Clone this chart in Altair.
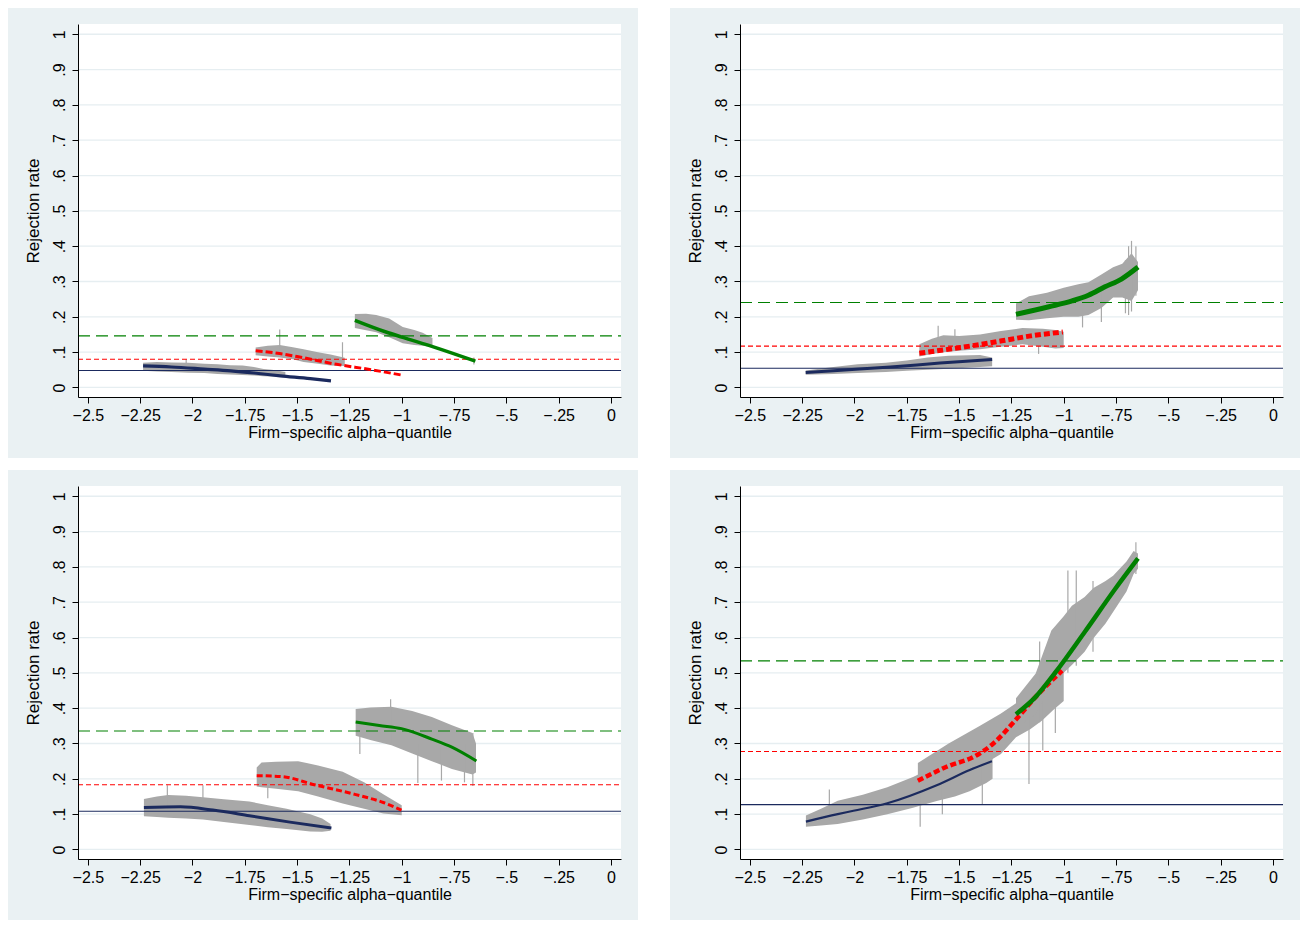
import altair as alt
import pandas as pd

FONT = "Liberation Sans"

# ---------------- shared axis values ----------------
X_TICKS = [-2.5, -2.25, -2.0, -1.75, -1.5, -1.25, -1.0, -0.75, -0.5, -0.25, 0.0]
Y_TICKS = [0.0, 0.1, 0.2, 0.3, 0.4, 0.5, 0.6, 0.7, 0.8, 0.9, 1.0]
X_DOMAIN = [-2.547, 0.048]
Y_DOMAIN = [-0.027, 1.029]
X_TITLE = "Firm\u2212specific alpha\u2212quantile"
Y_TITLE = "Rejection rate"

# ---------------- panel 1 (top left) ----------------
P1_HLINES = [0.048, 0.080, 0.146]  # navy, red, green
P1_NAVY_FIT = [(-2.236, 0.061), (-2.101, 0.058), (-1.943, 0.052), (-1.817, 0.047),
               (-1.706, 0.041), (-1.580, 0.033), (-1.437, 0.025), (-1.338, 0.0185)]
P1_NAVY_BAND = [(-2.236, 0.047, 0.070), (-2.17, 0.045, 0.072), (-2.10, 0.044, 0.071),
                (-2.02, 0.042, 0.070), (-1.943, 0.041, 0.067), (-1.88, 0.038, 0.066),
                (-1.82, 0.037, 0.063), (-1.76, 0.035, 0.062), (-1.706, 0.034, 0.058),
                (-1.66, 0.032, 0.052), (-1.62, 0.031, 0.050), (-1.556, 0.030, 0.044)]
P1_RED_FIT = [(-1.698, 0.104), (-1.583, 0.096), (-1.5, 0.0875), (-1.311, 0.0655),
              (-1.153, 0.051), (-1.0, 0.035)]
P1_RED_BAND = [(-1.698, 0.091, 0.113), (-1.64, 0.088, 0.118), (-1.583, 0.085, 0.120),
               (-1.52, 0.080, 0.114), (-1.469, 0.072, 0.108), (-1.40, 0.067, 0.100),
               (-1.34, 0.062, 0.093), (-1.272, 0.061, 0.084)]
P1_GREEN_FIT = [(-1.224, 0.190), (-1.075, 0.157), (-0.995, 0.142), (-0.838, 0.113),
                (-0.648, 0.0746)]
P1_GREEN_BAND = [(-1.224, 0.168, 0.208), (-1.17, 0.162, 0.209), (-1.122, 0.156, 0.205),
                 (-1.06, 0.142, 0.195), (-0.995, 0.125, 0.171), (-0.94, 0.120, 0.163),
                 (-0.900, 0.118, 0.155), (-0.853, 0.114, 0.140)]
P1_SPIKES = [(-1.583, 0.100, 0.164), (-1.283, 0.070, 0.128), (-2.03, 0.050, 0.080),
             (-0.655, 0.065, 0.085)]

# ---------------- panel 2 (top right) ----------------
P2_HLINES = [0.0544, 0.117, 0.2405]
P2_NAVY_FIT = [(-2.233, 0.0424), (-2.064, 0.049), (-1.828, 0.058), (-1.591, 0.069),
               (-1.342, 0.079)]
P2_NAVY_BAND = [(-2.233, 0.036, 0.048), (-2.10, 0.038, 0.058), (-1.985, 0.041, 0.066),
                (-1.85, 0.044, 0.070), (-1.75, 0.047, 0.076), (-1.65, 0.050, 0.085),
                (-1.55, 0.053, 0.090), (-1.40, 0.058, 0.092), (-1.342, 0.060, 0.085)]
P2_RED_FIT = [(-1.690, 0.097), (-1.493, 0.113), (-1.296, 0.132), (-1.157, 0.146),
              (-1.004, 0.157)]
P2_RED_BAND = [(-1.69, 0.088, 0.122), (-1.63, 0.095, 0.138), (-1.575, 0.100, 0.148),
               (-1.50, 0.104, 0.146), (-1.40, 0.108, 0.150), (-1.30, 0.115, 0.160),
               (-1.197, 0.122, 0.168), (-1.10, 0.115, 0.166), (-1.04, 0.110, 0.163),
               (-1.0, 0.112, 0.158)]
P2_GREEN_FIT = [(-1.228, 0.207), (-1.071, 0.2285), (-0.960, 0.245), (-0.882, 0.261),
                (-0.803, 0.285), (-0.724, 0.307), (-0.645, 0.341)]
P2_GREEN_BAND = [(-1.228, 0.192, 0.238), (-1.166, 0.190, 0.258), (-1.08, 0.196, 0.268),
                 (-1.0, 0.200, 0.282), (-0.93, 0.200, 0.292), (-0.882, 0.205, 0.298),
                 (-0.82, 0.225, 0.320), (-0.764, 0.255, 0.340), (-0.72, 0.255, 0.350),
                 (-0.676, 0.245, 0.380), (-0.645, 0.275, 0.355)]
P2_SPIKES = [(-0.676, 0.215, 0.415), (-0.690, 0.205, 0.400), (-0.705, 0.210, 0.360),
             (-0.820, 0.185, 0.300), (-0.910, 0.170, 0.260), (-1.600, 0.100, 0.175),
             (-1.520, 0.105, 0.165), (-1.120, 0.095, 0.150), (-0.655, 0.260, 0.400)]

# ---------------- panel 3 (bottom left) ----------------
P3_HLINES = [0.108, 0.1834, 0.3355]
P3_NAVY_FIT = [(-2.232, 0.119), (-2.057, 0.1206), (-1.902, 0.1115), (-1.728, 0.0957),
               (-1.534, 0.0774), (-1.336, 0.0608)]
P3_NAVY_BAND = [(-2.232, 0.094, 0.143), (-2.17, 0.092, 0.150), (-2.116, 0.090, 0.154),
                (-2.03, 0.088, 0.152), (-1.95, 0.085, 0.148), (-1.85, 0.078, 0.142),
                (-1.728, 0.069, 0.136), (-1.64, 0.063, 0.125), (-1.55, 0.058, 0.115),
                (-1.437, 0.051, 0.100), (-1.38, 0.050, 0.088), (-1.34, 0.053, 0.072)]
P3_RED_FIT = [(-1.693, 0.209), (-1.573, 0.2064), (-1.418, 0.1834), (-1.224, 0.156),
              (-1.088, 0.133), (-1.001, 0.1115)]
P3_RED_BAND = [(-1.693, 0.178, 0.232), (-1.670, 0.176, 0.246), (-1.60, 0.172, 0.248),
               (-1.495, 0.165, 0.250), (-1.40, 0.150, 0.238), (-1.282, 0.130, 0.220),
               (-1.18, 0.115, 0.190), (-1.088, 0.102, 0.156), (-1.0, 0.097, 0.125)]
P3_GREEN_FIT = [(-1.220, 0.361), (-1.107, 0.351), (-1.001, 0.342), (-0.856, 0.3125),
                (-0.758, 0.289), (-0.643, 0.2506)]
P3_GREEN_BAND = [(-1.220, 0.322, 0.398), (-1.15, 0.310, 0.402), (-1.049, 0.295, 0.404),
                 (-0.95, 0.272, 0.392), (-0.856, 0.250, 0.375), (-0.76, 0.228, 0.352),
                 (-0.662, 0.212, 0.330), (-0.645, 0.218, 0.300)]
P3_SPIKES = [(-1.053, 0.300, 0.425), (-0.923, 0.188, 0.300), (-0.700, 0.190, 0.300),
             (-0.810, 0.195, 0.300), (-1.200, 0.270, 0.360), (-2.120, 0.110, 0.182),
             (-1.950, 0.120, 0.182), (-1.640, 0.145, 0.200), (-0.660, 0.180, 0.330)]

# ---------------- panel 4 (bottom right) ----------------
P4_HLINES = [0.127, 0.2774, 0.534]
P4_NAVY_FIT = [(-2.232, 0.079), (-2.080, 0.100), (-2.005, 0.1095), (-1.843, 0.131),
               (-1.607, 0.182), (-1.449, 0.225), (-1.343, 0.2497)]
P4_NAVY_BAND = [(-2.232, 0.064, 0.096), (-2.16, 0.068, 0.115), (-2.08, 0.072, 0.138),
                (-1.96, 0.085, 0.155), (-1.843, 0.100, 0.176), (-1.72, 0.118, 0.205),
                (-1.607, 0.137, 0.238), (-1.52, 0.150, 0.265), (-1.45, 0.165, 0.288),
                (-1.37, 0.188, 0.322), (-1.34, 0.200, 0.330)]
P4_RED_FIT = [(-1.697, 0.1944), (-1.560, 0.234), (-1.418, 0.266), (-1.339, 0.2987),
              (-1.228, 0.3678), (-1.134, 0.432), (-1.0075, 0.506)]
P4_RED_BAND = [(-1.697, 0.175, 0.245), (-1.55, 0.200, 0.300), (-1.40, 0.235, 0.350),
               (-1.30, 0.270, 0.385), (-1.228, 0.318, 0.414), (-1.16, 0.340, 0.445),
               (-1.103, 0.365, 0.480), (-1.05, 0.395, 0.540), (-1.0, 0.420, 0.600)]
P4_GREEN_FIT = [(-1.228, 0.383), (-1.134, 0.432), (-1.040, 0.501), (-0.898, 0.617),
                (-0.756, 0.736), (-0.645, 0.824)]
P4_GREEN_BAND = [(-1.228, 0.345, 0.428), (-1.134, 0.382, 0.498), (-1.059, 0.470, 0.620),
                 (-1.00, 0.500, 0.660), (-0.961, 0.522, 0.690), (-0.90, 0.560, 0.715),
                 (-0.858, 0.598, 0.740), (-0.80, 0.640, 0.760), (-0.764, 0.672, 0.775),
                 (-0.70, 0.730, 0.815), (-0.666, 0.780, 0.845), (-0.645, 0.795, 0.838)]
P4_SPIKES = [(-1.166, 0.185, 0.380), (-1.115, 0.360, 0.589), (-1.100, 0.280, 0.420),
             (-1.389, 0.128, 0.250), (-1.686, 0.064, 0.180), (-1.580, 0.100, 0.200),
             (-1.040, 0.330, 0.500), (-0.980, 0.500, 0.790), (-0.940, 0.520, 0.790),
             (-0.860, 0.560, 0.760), (-2.120, 0.080, 0.170), (-0.655, 0.780, 0.870)]

# ---------------- styling ----------------
NAVY = "#1B2A5E"
RED = "#FF0000"
GREEN = "#008000"
GRAY = "#A8A8A8"
BG = "#EAF1F3"
GRID = "#E6EEF1"

W, H = 543, 373          # plot area of each panel
ML, MR, MT, MB = 70, 17, 16, 61   # panel margins (gray frame)

X_LABELS = ("datum.value == 0 ? '0' : "
            "replace(replace(format(datum.value, '.2~f'), '0.', '.'), '-', '\u2212')")
Y_LABELS = ("datum.value == 0 ? '0' : datum.value == 1 ? '1' : "
            "replace(format(datum.value, '.1f'), '0.', '.')")

XSCALE = alt.Scale(domain=X_DOMAIN, nice=False, zero=False)
YSCALE = alt.Scale(domain=Y_DOMAIN, nice=False, zero=False)

COMMON_AXIS = dict(grid=False, zindex=1, domainColor="black", domainWidth=1,
                   tickColor="black", tickWidth=1, tickSize=6,
                   labelFont=FONT, labelFontSize=16, labelColor="black",
                   labelFlush=False, labelOverlap=False,
                   titleFont=FONT, titleFontWeight="normal", titleColor="black")
XAXIS = alt.Axis(values=X_TICKS, labelExpr=X_LABELS, title=X_TITLE,
                 labelPadding=4, titlePadding=1, titleFontSize=16, **COMMON_AXIS)
YAXIS = alt.Axis(values=Y_TICKS, labelExpr=Y_LABELS, title=Y_TITLE,
                 labelAngle=270, labelAlign="center", labelBaseline="bottom",
                 labelPadding=5, titlePadding=9, titleFontSize=17, **COMMON_AXIS)


def X(f):
    return alt.X(f, type="quantitative", scale=XSCALE, axis=XAXIS)


def Y(f):
    return alt.Y(f, type="quantitative", scale=YSCALE, axis=YAXIS)


def fit_df(pts):
    return pd.DataFrame(pts, columns=["x", "y"])


def band_df(pts):
    return pd.DataFrame(pts, columns=["x", "lo", "hi"])


def panel(hlines, navy_fit, navy_band, red_fit, red_band, green_fit, green_band,
          spikes, widths, red_dash):
    one = alt.Data(values=[{"k": 0}])
    frame = alt.Chart(one).mark_rect(color=BG).encode(
        x=alt.value(-ML), x2=alt.value(W + MR), y=alt.value(-MT), y2=alt.value(H + MB))
    plotbg = alt.Chart(one).mark_rect(color="white").encode(
        x=alt.value(0), x2=alt.value(W), y=alt.value(0), y2=alt.value(H))
    grid = alt.Chart(pd.DataFrame({"y": Y_TICKS})).mark_rule(
        color=GRID, strokeWidth=1.3).encode(y=Y("y"), x=alt.value(0), x2=alt.value(W))

    layers = [frame, plotbg, grid]
    for band in (navy_band, red_band, green_band):
        layers.append(alt.Chart(band_df(band)).mark_area(
            color=GRAY, interpolate="linear").encode(x=X("x"), y=Y("lo"), y2=alt.Y2("hi")))
    layers.append(alt.Chart(band_df(spikes)).mark_rule(
        color=GRAY, strokeWidth=1.2).encode(x=X("x"), y=Y("lo"), y2=alt.Y2("hi")))

    hl_styles = [(NAVY, []), (RED, [5, 3]), (GREEN, [12, 6])]
    for val, (col, dash) in zip(hlines, hl_styles):
        kw = dict(color=col, strokeWidth=1.1)
        if dash:
            kw["strokeDash"] = dash
        layers.append(alt.Chart(pd.DataFrame({"y": [val]})).mark_rule(**kw).encode(
            y=Y("y"), x=alt.value(0), x2=alt.value(W)))

    layers.append(alt.Chart(fit_df(navy_fit)).mark_line(
        color=NAVY, strokeWidth=widths[0], interpolate="monotone").encode(x=X("x"), y=Y("y")))
    layers.append(alt.Chart(fit_df(red_fit)).mark_line(
        color=RED, strokeWidth=widths[1], strokeDash=red_dash, strokeCap="butt",
        interpolate="monotone").encode(x=X("x"), y=Y("y")))
    layers.append(alt.Chart(fit_df(green_fit)).mark_line(
        color=GREEN, strokeWidth=widths[2], interpolate="monotone").encode(x=X("x"), y=Y("y")))

    return alt.layer(*layers).properties(width=W, height=H)


p1 = panel(P1_HLINES, P1_NAVY_FIT, P1_NAVY_BAND, P1_RED_FIT, P1_RED_BAND,
           P1_GREEN_FIT, P1_GREEN_BAND, P1_SPIKES, (3.2, 3.0, 3.5), [7, 3])
p2 = panel(P2_HLINES, P2_NAVY_FIT, P2_NAVY_BAND, P2_RED_FIT, P2_RED_BAND,
           P2_GREEN_FIT, P2_GREEN_BAND, P2_SPIKES, (3.0, 5.0, 5.0), [6, 3])
p3 = panel(P3_HLINES, P3_NAVY_FIT, P3_NAVY_BAND, P3_RED_FIT, P3_RED_BAND,
           P3_GREEN_FIT, P3_GREEN_BAND, P3_SPIKES, (3.0, 3.0, 3.0), [6, 3])
p4 = panel(P4_HLINES, P4_NAVY_FIT, P4_NAVY_BAND, P4_RED_FIT, P4_RED_BAND,
           P4_GREEN_FIT, P4_GREEN_BAND, P4_SPIKES, (2.2, 4.5, 4.5), [6, 3])

chart = alt.vconcat(
    alt.hconcat(p1, p2, spacing=32),
    alt.hconcat(p3, p4, spacing=32),
    spacing=12,
).properties(padding=0, background="white").configure_view(strokeWidth=0)

chart.save("out.html", embed_options={"renderer": "svg", "actions": False})
